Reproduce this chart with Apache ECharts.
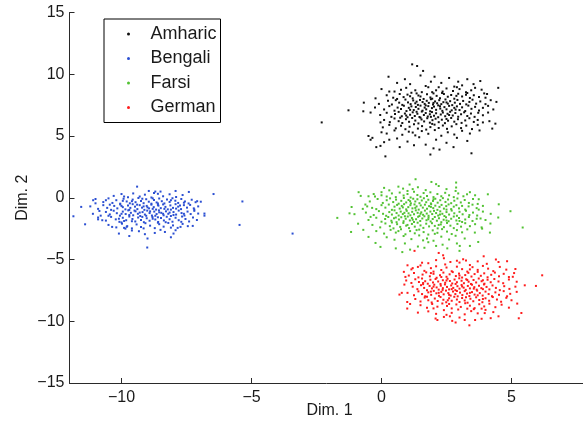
<!DOCTYPE html>
<html>
<head>
<meta charset="utf-8">
<title>Dim. 1 / Dim. 2</title>
<script src="https://cdn.jsdelivr.net/npm/echarts@6/dist/echarts.min.js"></script>
<style>
  html, body { margin: 0; padding: 0; background: #fff; }
  #chart { width: 583px; height: 425px; }
</style>
</head>
<body>
<div id="chart"></div>
<script>
// Language labels, in legend order
const languages = ['Amharic', 'Bengali', 'Farsi', 'German'];

// Tick positions on the horizontal axis
const xTicks = [-10, -5, 0, 5];

// Projected samples [Dim. 1, Dim. 2] for each language
const amharic = [
  [-2.3,6.1],[-1.27,7.08],[-0.68,7.7],[-0.7,7.0],[-0.42,6.9],[-0.5,5.0],[-0.42,4.7],[-0.35,4.85],[-0.2,4.1],[-0.04,4.2],
  [0.1,4.5],[0.15,3.35],[0.27,9.8],[0.0,8.8],[-0.23,8.05],[-0.04,6.1],[0.3,4.7],[0.7,4.1],[0.0,5.3],[4.49,8.9],
  [3.8,9.45],[4.06,8.4],[4.0,8.1],[4.42,7.76],[4.15,6.2],[4.38,6.0],[4.26,5.6],[3.77,5.45],[3.46,3.6],[2.77,4.1],
  [2.23,3.9],[1.88,3.5],[2.0,4.0],[1.37,10.67],[1.18,10.8],[1.6,10.27],[2.04,9.8],[2.95,9.4],[3.54,9.2],
  [0.9,9.6],[1.5,9.9],[2.3,9.3],[2.6,9.7],[1.1,9.2],[3.1,9.1],[1.9,9.4],[0.6,9.3],[2.8,9.0],[1.7,9.05],[3.3,9.6],
  [0.5,8.6],[0.95,8.9],[1.3,8.7],[1.55,8.55],[1.8,8.95],[2.1,8.7],[2.35,8.6],[2.5,8.85],[2.75,8.65],[3.0,8.8],
  [3.25,8.55],[3.6,8.9],[0.75,8.75],[1.95,8.55],[2.9,8.95],[3.45,8.7],[1.15,8.5],[2.2,8.95],[0.3,8.6],[3.85,8.75],
  [0.2,8.3],[0.45,8.1],[0.7,8.4],[0.85,8.15],[1.0,8.35],[1.2,8.05],[1.35,8.45],[1.5,8.2],[1.62,8.0],[1.75,8.38],
  [1.88,8.12],[2.0,8.45],[2.12,8.25],[2.25,8.05],[2.4,8.4],[2.55,8.18],[2.68,8.32],[2.8,8.02],[2.95,8.42],[3.1,8.2],
  [3.25,8.35],[3.4,8.08],[3.55,8.3],[3.75,8.15],[3.95,8.45],[1.42,8.28],[2.33,8.48],[1.1,8.22],[2.88,8.25],[0.6,8.0],
  [1.95,8.02],[3.3,8.48],
  [-0.1,7.6],[0.25,7.85],[0.4,7.55],[0.55,7.9],[0.68,7.7],[0.8,7.52],[0.92,7.95],[1.02,7.72],[1.12,7.58],[1.22,7.88],
  [1.3,7.65],[1.4,7.52],[1.48,7.92],[1.58,7.75],[1.66,7.6],[1.74,7.85],[1.82,7.68],[1.9,7.98],[1.98,7.55],[2.06,7.8],
  [2.14,7.65],[2.22,7.9],[2.3,7.58],[2.38,7.74],[2.46,7.96],[2.55,7.62],[2.64,7.82],[2.72,7.5],[2.82,7.7],[2.92,7.92],
  [3.02,7.6],[3.14,7.84],[3.26,7.56],[3.38,7.76],[3.5,7.94],[3.64,7.62],[3.8,7.8],[4.0,7.58],[4.2,7.9],[1.35,7.78],
  [2.0,7.68],[2.5,7.72],
  [-0.25,7.3],[0.1,7.15],[0.3,7.42],[0.5,7.05],[0.62,7.3],[0.75,7.18],[0.86,7.45],[0.96,7.02],[1.05,7.28],[1.15,7.4],
  [1.24,7.1],[1.32,7.35],[1.42,7.2],[1.5,7.46],[1.58,7.05],[1.66,7.3],[1.72,7.16],[1.8,7.42],[1.87,7.0],[1.94,7.26],
  [2.02,7.38],[2.1,7.12],[2.18,7.48],[2.26,7.22],[2.34,7.04],[2.42,7.34],[2.5,7.16],[2.6,7.44],[2.7,7.08],[2.8,7.28],
  [2.9,7.4],[3.0,7.1],[3.1,7.32],[3.22,7.02],[3.34,7.46],[3.46,7.2],[3.6,7.36],[3.75,7.06],[3.9,7.28],[4.1,7.44],
  [4.3,7.15],[1.1,7.12],[2.25,7.4],[1.7,7.48],[2.85,7.14],
  [-0.05,6.7],[0.2,6.88],[0.38,6.55],[0.52,6.78],[0.66,6.95],[0.78,6.6],[0.9,6.82],[1.0,6.52],[1.1,6.72],[1.2,6.92],
  [1.28,6.62],[1.38,6.8],[1.46,6.54],[1.55,6.98],[1.63,6.7],[1.7,6.86],[1.78,6.58],[1.86,6.76],[1.94,6.94],[2.02,6.64],
  [2.1,6.84],[2.18,6.52],[2.28,6.74],[2.36,6.9],[2.45,6.6],[2.54,6.8],[2.64,6.96],[2.74,6.66],[2.84,6.86],[2.95,6.56],
  [3.06,6.76],[3.18,6.92],[3.3,6.62],[3.44,6.82],[3.58,6.55],[3.72,6.88],[3.9,6.68],[4.1,6.9],[0.95,6.66],[1.9,6.55],
  [2.6,6.7],[1.35,6.96],
  [0.1,6.3],[0.32,6.12],[0.5,6.42],[0.66,6.2],[0.8,6.05],[0.94,6.36],[1.06,6.15],[1.18,6.46],[1.3,6.25],[1.42,6.02],
  [1.54,6.34],[1.64,6.18],[1.76,6.44],[1.86,6.08],[1.96,6.28],[2.08,6.4],[2.2,6.12],[2.32,6.32],[2.44,6.04],[2.56,6.24],
  [2.68,6.46],[2.8,6.16],[2.94,6.36],[3.08,6.06],[3.22,6.26],[3.38,6.44],[3.55,6.14],[3.7,6.3],[3.9,6.1],[1.5,6.48],
  [2.5,6.38],[0.72,6.48],
  [0.05,5.7],[0.3,5.9],[0.55,5.62],[0.75,5.82],[0.92,5.55],[1.08,5.75],[1.25,5.95],[1.4,5.6],[1.56,5.8],[1.72,5.52],
  [1.88,5.72],[2.04,5.92],[2.2,5.65],[2.36,5.85],[2.52,5.58],[2.7,5.78],[2.88,5.96],[3.06,5.64],[3.26,5.84],[3.48,5.56],
  [3.7,5.9],[1.95,5.98],
  [0.2,5.2],[0.5,5.45],[0.8,5.1],[1.05,5.35],[1.3,5.05],[1.55,5.4],[1.8,5.18],[2.05,5.48],[2.3,5.02],[2.55,5.3],
  [2.8,5.12],[3.1,5.42],[3.4,5.2],[1.2,5.28],
  [0.6,4.8],[1.0,4.55],[1.45,4.9],[1.7,4.3],[2.1,4.7],[2.5,4.45],[2.9,4.85],[3.3,4.6],[1.25,4.25]
];

const bengali = [
  [-11.85,-1.5],[-11.55,-0.74],[-11.4,-2.15],[-11.09,-0.2],[-11.0,-0.45],[-10.85,-1.07],[-10.74,-1.82],[-10.9,-1.75],
  [-10.36,-2.36],[-9.85,-2.5],[-9.8,-2.35],[-9.4,0.9],[-8.95,0.55],[-8.7,0.5],[-8.5,0.5],[-7.92,0.55],[-7.41,0.47],
  [-7.09,-0.28],[-6.95,-0.32],[-6.81,-1.28],[-6.81,-1.45],[-7.2,-0.95],[-7.26,-2.28],[-7.73,-2.36],[-7.92,-2.63],
  [-8.33,-2.77],[-8.72,-2.85],[-9.01,-4.03],[-9.33,-2.71],[-6.46,0.3],[-5.35,-0.3],[-5.46,-2.2],[-3.42,-2.9],
  [-10.3,0.15],[-10.0,0.3],[-9.75,0.05],[-9.55,0.35],[-9.3,0.1],[-9.1,0.25],[-8.85,0.02],[-8.6,0.32],[-8.4,0.12],
  [-8.15,0.28],[-7.9,0.06],[-7.65,0.22],[-9.9,0.1],[-8.75,0.38],
  [-11.0,-0.1],[-10.7,-0.35],[-10.5,-0.05],[-10.35,-0.42],[-10.2,-0.2],[-10.05,-0.48],[-9.92,-0.08],[-9.8,-0.3],
  [-9.68,-0.45],[-9.57,-0.15],[-9.46,-0.36],[-9.35,-0.02],[-9.25,-0.26],[-9.15,-0.44],[-9.05,-0.12],[-8.95,-0.32],
  [-8.85,-0.48],[-8.75,-0.18],[-8.65,-0.38],[-8.55,-0.06],[-8.45,-0.28],[-8.35,-0.46],[-8.25,-0.14],[-8.15,-0.34],
  [-8.04,-0.04],[-7.93,-0.24],[-7.82,-0.42],[-7.7,-0.1],[-7.56,-0.3],[-7.42,-0.46],[-7.3,-0.16],[-7.15,-0.36],
  [-9.6,-0.28],[-8.8,-0.05],[-8.1,-0.2],[-9.95,-0.25],[-10.6,-0.2],[-8.6,-0.46],[-9.2,-0.08],[-7.6,-0.4],
  [-11.2,-0.7],[-10.9,-0.9],[-10.7,-0.6],[-10.55,-0.82],[-10.4,-0.98],[-10.28,-0.66],[-10.16,-0.86],[-10.05,-0.54],
  [-9.95,-0.76],[-9.85,-0.94],[-9.75,-0.62],[-9.66,-0.82],[-9.57,-0.52],[-9.48,-0.72],[-9.39,-0.92],[-9.3,-0.6],
  [-9.21,-0.8],[-9.12,-0.98],[-9.03,-0.66],[-8.94,-0.86],[-8.85,-0.56],[-8.76,-0.76],[-8.67,-0.96],[-8.58,-0.64],
  [-8.49,-0.84],[-8.4,-0.54],[-8.31,-0.74],[-8.22,-0.94],[-8.12,-0.62],[-8.02,-0.82],[-7.92,-0.52],[-7.82,-0.72],
  [-7.71,-0.92],[-7.6,-0.6],[-7.48,-0.8],[-7.36,-0.58],[-7.22,-0.86],[-7.05,-0.7],[-9.0,-0.78],[-8.6,-0.58],
  [-9.7,-0.98],[-8.1,-0.96],[-10.0,-0.66],[-9.4,-0.56],[-8.35,-0.9],[-7.75,-0.62],[-9.15,-0.7],[-8.8,-0.9],
  [-10.45,-0.56],[-7.9,-0.88],
  [-11.1,-1.3],[-10.8,-1.45],[-10.6,-1.15],[-10.45,-1.35],[-10.3,-1.05],[-10.18,-1.25],[-10.06,-1.45],[-9.95,-1.12],
  [-9.84,-1.32],[-9.74,-1.02],[-9.64,-1.22],[-9.55,-1.42],[-9.46,-1.1],[-9.37,-1.3],[-9.28,-1.48],[-9.19,-1.16],
  [-9.1,-1.36],[-9.01,-1.04],[-8.92,-1.24],[-8.83,-1.44],[-8.74,-1.12],[-8.65,-1.32],[-8.56,-1.02],[-8.47,-1.22],
  [-8.38,-1.42],[-8.29,-1.1],[-8.2,-1.3],[-8.1,-1.48],[-8.0,-1.16],[-7.9,-1.36],[-7.8,-1.04],[-7.69,-1.24],
  [-7.58,-1.44],[-7.46,-1.12],[-7.34,-1.32],[-7.2,-1.06],[-7.05,-1.28],[-9.7,-1.4],[-8.9,-1.1],[-8.4,-1.3],
  [-9.3,-1.2],[-8.0,-1.4],[-10.0,-1.3],[-8.7,-1.46],[-9.5,-1.04],[-8.15,-1.2],[-10.5,-1.46],[-7.6,-1.3],
  [-9.05,-1.46],[-8.55,-1.18],
  [-10.9,-1.6],[-10.6,-1.85],[-10.4,-1.55],[-10.22,-1.75],[-10.08,-1.95],[-9.95,-1.62],[-9.82,-1.82],[-9.7,-1.52],
  [-9.58,-1.72],[-9.47,-1.92],[-9.36,-1.6],[-9.25,-1.8],[-9.14,-1.98],[-9.03,-1.66],[-8.92,-1.86],[-8.81,-1.56],
  [-8.7,-1.76],[-8.59,-1.96],[-8.48,-1.64],[-8.37,-1.84],[-8.26,-1.54],[-8.15,-1.74],[-8.04,-1.94],[-7.92,-1.62],
  [-7.8,-1.82],[-7.67,-1.52],[-7.54,-1.72],[-7.4,-1.92],[-7.25,-1.6],[-7.1,-1.8],[-9.6,-1.9],[-8.8,-1.7],
  [-9.2,-1.55],[-8.3,-1.98],[-10.1,-1.7],[-7.7,-1.95],[-8.6,-1.58],[-9.9,-1.88],
  [-10.5,-2.2],[-10.2,-2.4],[-9.98,-2.1],[-9.78,-2.3],[-9.6,-2.48],[-9.42,-2.16],[-9.25,-2.36],[-9.08,-2.06],
  [-8.9,-2.26],[-8.72,-2.46],[-8.55,-2.14],[-8.38,-2.34],[-8.2,-2.04],[-8.02,-2.24],[-7.84,-2.44],[-7.65,-2.12],
  [-7.45,-2.3],[-9.15,-2.48],[-8.6,-2.02],[-9.9,-2.44],[-8.1,-2.42],[-10.0,-2.0],
  [-10.1,-2.9],[-9.6,-2.65],[-9.1,-2.95],[-8.5,-2.6],[-8.0,-2.9],[-9.0,-3.3],[-9.7,-3.1],[-8.1,-3.2]
];

const farsi = [
  [-1.7,-1.63],[-1.23,-1.26],[-1.04,-1.33],[-1.17,-2.77],[-0.88,0.45],[-1.15,-0.75],[-0.8,0.15],[-0.5,-3.17],
  [-0.23,-3.66],[-0.04,-3.98],[1.31,1.5],[1.08,1.07],[0.83,0.74],[-0.5,0.12],[-0.25,0.1],[0.0,0.2],[-0.36,-0.82],
  [-0.72,-0.9],[-0.62,-0.55],[-0.42,-1.55],[5.43,-2.41],[4.96,-1.09],[4.51,-0.53],[4.49,-1.6],[4.19,-2.09],
  [4.17,-2.82],[4.09,0.28],[3.74,-0.12],[3.74,-0.96],[3.7,-0.5],[3.81,-1.68],[4.0,-1.8],[3.87,-2.5],[3.72,-3.58],
  [3.4,-3.9],[3.01,-3.9],[3.59,-2.82],[3.29,0.28],[3.6,0.2],[2.87,1.23],[2.87,0.83],[2.1,1.1],[1.92,1.28],
  [2.53,-4.1],[2.1,-3.9],[2.9,-3.7],[3.0,-4.3],[0.8,-4.4],[0.55,-4.1],[-0.9,-2.1],[-0.7,-2.6],
  [0.3,0.6],[0.65,0.9],[1.0,0.55],[1.4,0.85],[1.7,0.62],[2.2,0.95],[2.5,0.7],[1.2,0.7],[0.1,0.8],[2.85,0.55],
  [-0.3,0.3],[0.0,0.45],[0.2,0.1],[0.4,0.35],[0.55,0.05],[0.7,0.42],[0.85,0.18],[1.0,0.3],[1.12,0.02],[1.25,0.48],
  [1.38,0.22],[1.5,0.08],[1.62,0.38],[1.75,0.15],[1.88,0.44],[2.0,0.05],[2.15,0.3],[2.3,0.12],[2.45,0.4],[2.6,0.2],
  [2.78,0.05],[2.95,0.35],[3.15,0.12],[3.4,0.45],
  [-0.45,-0.3],[-0.15,-0.1],[0.05,-0.42],[0.2,-0.2],[0.33,-0.05],[0.45,-0.35],[0.56,-0.15],[0.66,-0.48],[0.76,-0.25],
  [0.86,-0.02],[0.95,-0.38],[1.04,-0.18],[1.13,-0.45],[1.22,-0.08],[1.3,-0.3],[1.38,-0.12],[1.46,-0.44],[1.55,-0.22],
  [1.63,-0.04],[1.72,-0.36],[1.8,-0.16],[1.9,-0.46],[1.98,-0.26],[2.07,-0.08],[2.16,-0.4],[2.26,-0.2],[2.36,-0.03],
  [2.46,-0.34],[2.56,-0.14],[2.68,-0.44],[2.8,-0.24],[2.92,-0.06],[3.05,-0.38],[3.2,-0.18],[3.36,-0.42],[3.52,-0.1],
  [1.1,-0.28],[2.0,-0.12],
  [-0.55,-0.7],[-0.2,-0.92],[0.0,-0.6],[0.15,-0.8],[0.28,-0.55],[0.4,-0.98],[0.5,-0.72],[0.6,-0.58],[0.7,-0.88],
  [0.78,-0.66],[0.87,-0.52],[0.95,-0.94],[1.03,-0.76],[1.11,-0.6],[1.19,-0.86],[1.27,-0.54],[1.35,-0.7],[1.43,-0.96],
  [1.51,-0.62],[1.59,-0.8],[1.67,-0.56],[1.75,-0.9],[1.83,-0.68],[1.91,-0.52],[1.99,-0.84],[2.07,-0.64],[2.15,-0.98],
  [2.23,-0.74],[2.31,-0.58],[2.4,-0.88],[2.49,-0.68],[2.58,-0.54],[2.68,-0.92],[2.78,-0.72],[2.88,-0.6],[2.98,-0.86],
  [3.1,-0.66],[3.22,-0.96],[3.35,-0.7],[3.5,-0.56],[3.66,-0.84],[3.9,-0.66],[1.3,-0.82],[1.9,-0.74],[0.82,-0.78],
  [2.5,-0.96],
  [-0.6,-1.2],[-0.3,-1.4],[-0.1,-1.08],[0.06,-1.3],[0.18,-1.46],[0.3,-1.16],[0.4,-1.36],[0.5,-1.02],[0.58,-1.24],
  [0.66,-1.44],[0.74,-1.12],[0.82,-1.32],[0.9,-1.5],[0.97,-1.06],[1.04,-1.26],[1.11,-1.42],[1.18,-1.14],[1.25,-1.34],
  [1.32,-1.02],[1.39,-1.22],[1.46,-1.48],[1.53,-1.18],[1.6,-1.38],[1.67,-1.04],[1.74,-1.28],[1.81,-1.46],[1.88,-1.12],
  [1.95,-1.32],[2.02,-1.06],[2.1,-1.24],[2.18,-1.44],[2.26,-1.1],[2.34,-1.3],[2.42,-1.48],[2.5,-1.16],[2.6,-1.36],
  [2.7,-1.04],[2.8,-1.26],[2.9,-1.46],[3.0,-1.14],[3.12,-1.34],[3.25,-1.06],[3.38,-1.4],[3.52,-1.2],[3.68,-1.44],
  [3.9,-1.12],[4.2,-1.3],[1.5,-1.3],[2.25,-1.36],[0.88,-1.22],
  [-0.5,-1.8],[-0.2,-1.62],[0.0,-1.94],[0.14,-1.72],[0.26,-1.56],[0.38,-1.86],[0.48,-1.66],[0.58,-1.98],[0.67,-1.76],
  [0.76,-1.58],[0.85,-1.9],[0.93,-1.7],[1.01,-1.52],[1.09,-1.84],[1.17,-1.64],[1.25,-1.96],[1.33,-1.74],[1.41,-1.54],
  [1.49,-1.88],[1.57,-1.68],[1.65,-1.5],[1.73,-1.82],[1.81,-1.6],[1.89,-1.92],[1.97,-1.72],[2.05,-1.56],[2.13,-1.86],
  [2.21,-1.66],[2.3,-1.98],[2.39,-1.78],[2.48,-1.58],[2.58,-1.9],[2.68,-1.7],[2.78,-1.52],[2.88,-1.84],[2.98,-1.64],
  [3.1,-1.96],[3.22,-1.76],[3.36,-1.56],[3.5,-1.88],[3.66,-1.7],[1.2,-1.78],[1.8,-1.74],[2.5,-1.84],[0.55,-1.6],
  [3.0,-1.88],
  [-0.35,-2.2],[-0.05,-2.4],[0.15,-2.08],[0.32,-2.3],[0.46,-2.48],[0.6,-2.14],[0.72,-2.36],[0.84,-2.04],[0.95,-2.26],
  [1.06,-2.46],[1.17,-2.12],[1.28,-2.34],[1.39,-2.02],[1.5,-2.24],[1.61,-2.44],[1.72,-2.1],[1.83,-2.32],[1.94,-2.06],
  [2.05,-2.28],[2.16,-2.48],[2.28,-2.16],[2.4,-2.38],[2.52,-2.04],[2.65,-2.26],[2.78,-2.46],[2.92,-2.12],[3.06,-2.34],
  [3.22,-2.06],[3.4,-2.3],[3.6,-2.14],[3.85,-2.4],[1.0,-2.2],[2.2,-2.2],[0.4,-2.0],
  [-0.2,-2.7],[0.1,-2.9],[0.35,-2.6],[0.55,-2.82],[0.75,-2.56],[0.92,-2.96],[1.1,-2.7],[1.28,-2.88],[1.45,-2.58],
  [1.62,-2.78],[1.8,-2.98],[1.97,-2.64],[2.15,-2.84],[2.33,-2.54],[2.52,-2.74],[2.7,-2.94],[2.9,-2.62],[3.1,-2.8],
  [3.3,-2.56],[1.35,-2.62],[2.05,-2.92],[0.65,-2.7],
  [0.2,-3.2],[0.5,-3.4],[0.85,-3.1],[1.15,-3.35],[1.45,-3.05],[1.75,-3.3],[2.0,-3.48],[2.3,-3.15],[2.6,-3.38],
  [2.85,-3.08],[3.2,-3.3],[1.6,-3.45],
  [0.9,-3.7],[1.4,-3.95],[1.8,-3.6],[2.35,-3.8],[1.1,-4.2],[1.65,-4.05]
];

const german = [
  [0.69,-7.84],[0.78,-7.7],[0.88,-7.03],[0.92,-6.41],[0.86,-6.0],[1.0,-5.47],[1.2,-5.7],[0.99,-8.44],[1.1,-8.6],
  [0.99,-8.97],[2.08,-9.78],[2.15,-9.9],[2.63,-9.6],[2.72,-9.97],[3.38,-10.33],[3.2,-9.9],[3.97,-9.34],[5.28,-9.76],
  [5.38,-9.33],[5.22,-8.57],[4.83,-7.98],[5.51,-7.09],[5.94,-7.14],[6.18,-6.28],[4.83,-5.14],[3.93,-4.74],
  [3.14,-4.98],[2.9,-5.1],[2.65,-5.2],[2.37,-4.66],[1.56,-5.26],[5.15,-5.77],[5.05,-6.4],[5.1,-6.1],[2.2,-4.47],
  [2.4,-4.9],[1.27,-4.3],[4.4,-5.0],[1.4,-9.3],[4.5,-9.6],[3.6,-9.9],
  [1.8,-5.3],[2.1,-5.05],[2.45,-5.4],[3.0,-5.25],[3.4,-5.45],[3.7,-5.15],[4.05,-5.35],[4.5,-5.2],[1.5,-5.48],[3.25,-5.08],
  [1.15,-5.8],[1.4,-5.6],[1.65,-5.92],[1.9,-5.7],[2.1,-5.55],[2.3,-5.85],[2.5,-5.65],[2.7,-5.95],[2.9,-5.58],[3.1,-5.78],
  [3.3,-5.98],[3.5,-5.62],[3.7,-5.84],[3.9,-5.52],[4.1,-5.74],[4.3,-5.94],[4.55,-5.6],[4.8,-5.82],[2.0,-5.98],[3.4,-5.8],
  [1.05,-6.3],[1.25,-6.1],[1.42,-6.45],[1.58,-6.22],[1.72,-6.04],[1.86,-6.36],[2.0,-6.16],[2.12,-6.48],[2.25,-6.28],
  [2.38,-6.06],[2.5,-6.4],[2.62,-6.2],[2.74,-6.02],[2.86,-6.34],[2.98,-6.14],[3.1,-6.46],[3.22,-6.26],[3.34,-6.08],
  [3.46,-6.38],[3.58,-6.18],[3.7,-6.0],[3.82,-6.32],[3.95,-6.12],[4.08,-6.44],[4.22,-6.24],[4.36,-6.06],[4.52,-6.36],
  [4.7,-6.16],[4.9,-6.42],[2.3,-6.42],[3.0,-6.3],[1.9,-6.1],
  [0.95,-6.7],[1.15,-6.9],[1.3,-6.6],[1.44,-6.82],[1.56,-6.54],[1.68,-6.76],[1.78,-6.96],[1.88,-6.64],[1.98,-6.86],
  [2.08,-6.58],[2.18,-6.78],[2.27,-6.98],[2.36,-6.68],[2.45,-6.88],[2.54,-6.56],[2.63,-6.74],[2.72,-6.94],[2.81,-6.62],
  [2.9,-6.84],[2.99,-6.52],[3.08,-6.72],[3.17,-6.92],[3.26,-6.6],[3.35,-6.8],[3.44,-6.98],[3.54,-6.66],[3.64,-6.86],
  [3.74,-6.54],[3.85,-6.76],[3.96,-6.96],[4.08,-6.64],[4.2,-6.84],[4.34,-6.58],[4.5,-6.78],[4.68,-6.92],[4.9,-6.62],
  [5.2,-6.8],[2.5,-6.7],[3.3,-6.66],[1.6,-6.9],[2.85,-6.98],[3.9,-6.68],
  [1.2,-7.2],[1.38,-7.4],[1.52,-7.08],[1.64,-7.3],[1.75,-7.48],[1.85,-7.14],[1.94,-7.34],[2.03,-7.04],[2.12,-7.26],
  [2.2,-7.44],[2.28,-7.12],[2.36,-7.32],[2.44,-7.02],[2.52,-7.22],[2.6,-7.42],[2.68,-7.1],[2.76,-7.3],[2.84,-7.48],
  [2.92,-7.16],[3.0,-7.36],[3.08,-7.06],[3.16,-7.28],[3.24,-7.46],[3.32,-7.14],[3.4,-7.34],[3.48,-7.04],[3.57,-7.24],
  [3.66,-7.44],[3.75,-7.12],[3.84,-7.32],[3.94,-7.02],[4.04,-7.22],[4.15,-7.42],[4.27,-7.1],[4.4,-7.3],[4.55,-7.48],
  [4.72,-7.16],[4.92,-7.38],[5.15,-7.2],[2.0,-7.2],[2.7,-7.4],[3.1,-7.18],[3.55,-7.36],[2.35,-7.46],[1.6,-7.0],[3.9,-7.4],
  [1.0,-7.7],[1.25,-7.9],[1.42,-7.58],[1.56,-7.8],[1.68,-7.98],[1.8,-7.66],[1.91,-7.86],[2.01,-7.54],[2.11,-7.74],
  [2.21,-7.94],[2.3,-7.62],[2.39,-7.82],[2.48,-7.52],[2.57,-7.72],[2.66,-7.92],[2.75,-7.6],[2.84,-7.8],[2.93,-7.98],
  [3.02,-7.68],[3.11,-7.88],[3.2,-7.56],[3.29,-7.76],[3.38,-7.96],[3.48,-7.64],[3.58,-7.84],[3.68,-7.52],[3.78,-7.72],
  [3.89,-7.92],[4.0,-7.6],[4.12,-7.8],[4.25,-7.98],[4.38,-7.66],[4.52,-7.86],[4.7,-7.56],[4.95,-7.78],[5.2,-7.62],
  [2.9,-7.55],[3.4,-7.7],[2.2,-7.7],[1.9,-7.6],[3.7,-7.9],[2.6,-7.86],
  [1.3,-8.2],[1.5,-8.4],[1.66,-8.08],[1.8,-8.3],[1.93,-8.48],[2.05,-8.16],[2.16,-8.36],[2.27,-8.04],[2.38,-8.26],
  [2.49,-8.46],[2.6,-8.14],[2.7,-8.34],[2.8,-8.02],[2.9,-8.24],[3.0,-8.44],[3.1,-8.12],[3.2,-8.32],[3.31,-8.5],
  [3.42,-8.18],[3.53,-8.38],[3.64,-8.06],[3.76,-8.28],[3.88,-8.46],[4.0,-8.14],[4.14,-8.34],[4.28,-8.04],[4.44,-8.24],
  [4.6,-8.42],[4.8,-8.1],[5.0,-8.3],[2.55,-8.3],[3.25,-8.06],[1.75,-8.02],[3.9,-8.2],
  [1.5,-8.7],[1.75,-8.9],[1.95,-8.6],[2.15,-8.82],[2.34,-8.56],[2.52,-8.76],[2.7,-8.96],[2.88,-8.64],[3.05,-8.84],
  [3.22,-8.54],[3.4,-8.74],[3.58,-8.94],[3.76,-8.62],[3.95,-8.8],[4.15,-8.58],[4.38,-8.86],[4.62,-8.66],[4.9,-8.9],
  [2.6,-8.6],[3.3,-8.98],[2.0,-8.96],[3.85,-8.98],
  [1.8,-9.2],[2.1,-9.4],[2.4,-9.1],[2.7,-9.32],[2.95,-9.05],[3.2,-9.44],[3.45,-9.18],[3.7,-9.36],[4.0,-9.08],
  [4.3,-9.26],[2.5,-9.48],[3.55,-9.02],
  [2.4,-9.65],[3.0,-9.7],[3.85,-9.8],[2.85,-10.1],[4.2,-9.75]
];

const seriesData = [amharic, bengali, farsi, german];
const palette = ['#111111', '#2b4fd2', '#52c233', '#ff1c1c'];

const FONT = '"Liberation Sans", Arial, Helvetica, sans-serif';
const INK = '#1a1a1a';
const minus = v => (v < 0 ? '\u2212' + Math.abs(v) : String(v));

const chart = echarts.init(document.getElementById('chart'), null, { renderer: 'canvas' });

chart.setOption({
  animation: false,
  backgroundColor: '#ffffff',
  textStyle: { fontFamily: FONT, color: INK },
  grid: {
    left: 69.5, top: 12.5, width: 520, height: 370.5,
    containLabel: false,
    outerBoundsMode: 'none'
  },
  legend: {
    data: languages.map(name => ({ name, icon: 'circle' })),
    orient: 'vertical',
    left: 104,
    top: 19,
    padding: [6, 4, 6, 23],
    itemGap: 6.5,
    itemWidth: 34,
    itemHeight: 3,
    borderColor: '#000',
    borderWidth: 1,
    backgroundColor: '#fff',
    textStyle: { fontFamily: FONT, fontSize: 18, color: INK },
    selectedMode: false
  },
  xAxis: {
    type: 'value',
    min: -12,
    max: 8,
    name: 'Dim. 1',
    nameLocation: 'middle',
    nameGap: 20,
    nameMoveOverlap: false,
    nameTextStyle: { fontFamily: FONT, fontSize: 16, color: INK },
    axisLine: { show: true, onZero: false, lineStyle: { color: '#2a2a2a', width: 1 } },
    axisTick: { show: true, inside: true, length: 5, customValues: xTicks, lineStyle: { color: '#2a2a2a' } },
    axisLabel: { customValues: xTicks, margin: 7, fontFamily: FONT, fontSize: 16, color: INK, formatter: minus },
    splitLine: { show: false }
  },
  yAxis: {
    type: 'value',
    min: -15,
    max: 15,
    interval: 5,
    name: 'Dim. 2',
    nameLocation: 'middle',
    nameGap: 39,
    nameMoveOverlap: false,
    nameRotate: 90,
    nameTextStyle: { fontFamily: FONT, fontSize: 16, color: INK },
    axisLine: { show: true, onZero: false, lineStyle: { color: '#2a2a2a', width: 1 } },
    axisTick: { show: true, inside: true, length: 5, lineStyle: { color: '#2a2a2a' } },
    axisLabel: { margin: 5, fontFamily: FONT, fontSize: 16, color: INK, formatter: minus },
    splitLine: { show: false }
  },
  series: languages.map((name, i) => ({
    name,
    type: 'scatter',
    data: seriesData[i],
    symbol: 'rect',
    symbolSize: 2,
    itemStyle: { color: palette[i], opacity: 1 },
    emphasis: { disabled: true },
    silent: true
  }))
});
</script>
</body>
</html>
